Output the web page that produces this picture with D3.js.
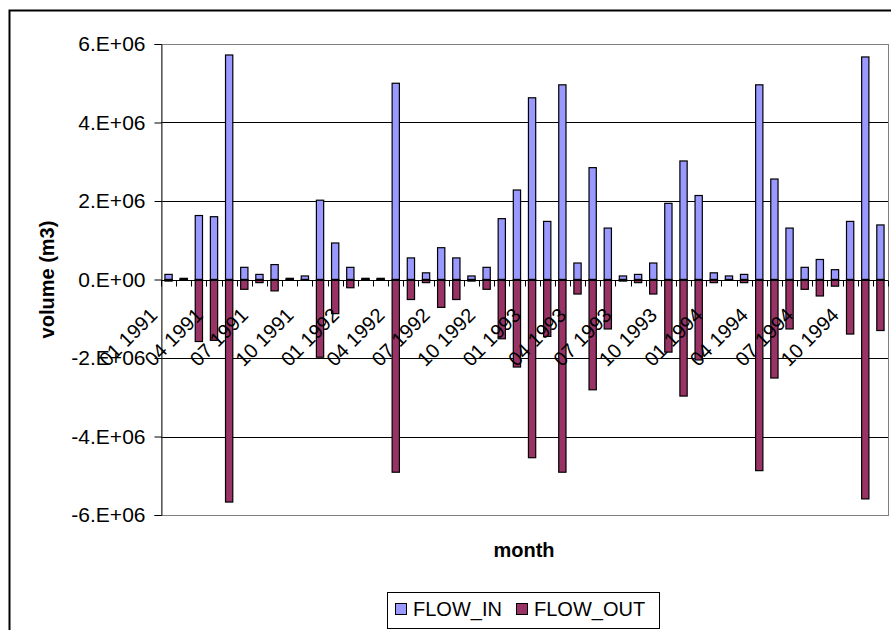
<!DOCTYPE html>
<html>
<head>
<meta charset="utf-8">
<script src="https://cdn.jsdelivr.net/npm/d3@7"></script>
<style>
  html, body { margin: 0; padding: 0; background: #fff; }
  svg { display: block; font-family: "Liberation Sans", Arial, sans-serif; }
</style>
</head>
<body>
<svg id="chart" width="891" height="630"></svg>
<script>
// Monthly categories, January 1991 to December 1994
const years = [1991, 1992, 1993, 1994];
const monthNums = ["01","02","03","04","05","06","07","08","09","10","11","12"];
const months = years.flatMap(y => monthNums.map(m => `${m} ${y}`));

// Every third month carries a label on the axis
const tickLabels = months.filter((_, i) => i % 3 === 0);

// Inflow volume per month (m3)
const flowIn = [
  0.13e6, 0.03e6, 1.63e6, 1.60e6, 5.72e6, 0.31e6, 0.13e6, 0.38e6, 0.03e6, 0.09e6, 2.02e6, 0.93e6,
  0.31e6, 0.03e6, 0.03e6, 5.00e6, 0.55e6, 0.17e6, 0.81e6, 0.55e6, 0.09e6, 0.31e6, 1.55e6, 2.28e6,
  4.63e6, 1.48e6, 4.96e6, 0.42e6, 2.85e6, 1.31e6, 0.09e6, 0.13e6, 0.42e6, 1.94e6, 3.02e6, 2.14e6,
  0.17e6, 0.09e6, 0.13e6, 4.96e6, 2.56e6, 1.31e6, 0.31e6, 0.51e6, 0.25e6, 1.48e6, 5.67e6, 1.39e6
];

// Outflow volume per month (m3), negative
const flowOut = [
  -0.04e6, -0.02e6, -1.58e6, -1.55e6, -5.67e6, -0.25e6, -0.08e6, -0.29e6, -0.02e6, -0.01e6, -1.98e6, -0.87e6,
  -0.21e6, -0.02e6, -0.02e6, -4.91e6, -0.51e6, -0.08e6, -0.71e6, -0.51e6, -0.04e6, -0.25e6, -1.51e6, -2.23e6,
  -4.54e6, -1.45e6, -4.91e6, -0.37e6, -2.81e6, -1.26e6, -0.04e6, -0.08e6, -0.37e6, -1.85e6, -2.97e6, -2.05e6,
  -0.08e6, -0.01e6, -0.08e6, -4.87e6, -2.51e6, -1.26e6, -0.25e6, -0.42e6, -0.17e6, -1.39e6, -5.59e6, -1.30e6
];

const yTicks = [-6e6, -4e6, -2e6, 0, 2e6, 4e6, 6e6];
const seriesNames = ["FLOW_IN", "FLOW_OUT"];
const seriesColors = ["#9999FF", "#993366"];

const svg = d3.select("#chart");

const plot = { left: 161, right: 888, top: 44, bottom: 515 };

const x = d3.scaleBand().domain(months).range([plot.left, plot.right]).padding(0);
const y = d3.scaleLinear().domain([-6e6, 6e6]).range([plot.bottom, plot.top]);

const barFrac = 0.48;
const barW = x.bandwidth() * barFrac;
const barOff = x.bandwidth() * (1 - barFrac) / 2;

// Excel-style scientific label, e.g. 6.E+06
function sci(d) {
  if (d === 0) return "0.E+00";
  const e = Math.floor(Math.log10(Math.abs(d)));
  const m = Math.round(d / Math.pow(10, e));
  return `${m}.E+${String(e).padStart(2, "0")}`;
}

// Outer chart frame
svg.append("rect")
  .attr("x", 9.5).attr("y", 10.5)
  .attr("width", 920).attr("height", 660)
  .attr("fill", "none").attr("stroke", "#000").attr("stroke-width", 2);

// Plot area frame
svg.append("rect")
  .attr("x", plot.left + 0.5).attr("y", plot.top + 0.5)
  .attr("width", plot.right - plot.left).attr("height", plot.bottom - plot.top)
  .attr("fill", "none").attr("stroke", "#808080").attr("stroke-width", 1);

// Horizontal gridlines
svg.append("g")
  .selectAll("line")
  .data(yTicks.filter(d => d !== 0 && Math.abs(d) < 6e6))
  .join("line")
  .attr("x1", plot.left).attr("x2", plot.right)
  .attr("y1", d => Math.round(y(d)) + 0.5).attr("y2", d => Math.round(y(d)) + 0.5)
  .attr("stroke", "#000").attr("stroke-width", 1);

// Bars: inflow above zero, outflow below
const bars = svg.append("g");
bars.selectAll("rect.in")
  .data(flowIn)
  .join("rect")
  .attr("class", "in")
  .attr("x", (d, i) => x(months[i]) + barOff)
  .attr("width", barW)
  .attr("y", d => y(d))
  .attr("height", d => y(0) - y(d))
  .attr("fill", seriesColors[0])
  .attr("stroke", "#000").attr("stroke-width", 1.2);

bars.selectAll("rect.out")
  .data(flowOut)
  .join("rect")
  .attr("class", "out")
  .attr("x", (d, i) => x(months[i]) + barOff)
  .attr("width", barW)
  .attr("y", y(0))
  .attr("height", d => y(d) - y(0))
  .attr("fill", seriesColors[1])
  .attr("stroke", "#000").attr("stroke-width", 1.2);

// Y axis
const yAxis = svg.append("g")
  .attr("transform", `translate(${plot.left + 0.5},0)`)
  .call(d3.axisLeft(y).tickValues(yTicks).tickFormat(sci).tickSize(7).tickPadding(9));
yAxis.select(".domain").attr("stroke", "#333");
yAxis.selectAll(".tick line").attr("stroke", "#000");
yAxis.selectAll(".tick text")
  .attr("font-size", 21).attr("fill", "#000")
  .style("font-family", "'Liberation Sans', Arial, sans-serif");

// X axis along zero, with ticks at category boundaries
const zeroY = Math.round(y(0)) + 0.5;
svg.append("line")
  .attr("x1", plot.left).attr("x2", plot.right)
  .attr("y1", zeroY).attr("y2", zeroY)
  .attr("stroke", "#000").attr("stroke-width", 1);

const boundaries = months.map(m => x(m)).concat([x(months[months.length - 1]) + x.bandwidth()]);
svg.append("g")
  .selectAll("line")
  .data(boundaries)
  .join("line")
  .attr("x1", d => Math.round(d) + 0.5)
  .attr("x2", d => Math.round(d) + 0.5)
  .attr("y1", zeroY).attr("y2", zeroY + 6)
  .attr("stroke", "#000").attr("stroke-width", 1);

// Rotated month labels
svg.append("g")
  .selectAll("text")
  .data(tickLabels)
  .join("text")
  .attr("transform", d => `translate(${x(d) + x.bandwidth() / 2 - 10},${y(0) + 37}) rotate(-45)`)
  .attr("text-anchor", "end")
  .attr("font-size", 20)
  .attr("fill", "#000")
  .text(d => d);

// Axis titles
svg.append("text")
  .attr("transform", `translate(54,${(plot.top + plot.bottom) / 2}) rotate(-90)`)
  .attr("text-anchor", "middle")
  .attr("font-size", 20).attr("font-weight", "bold")
  .text("volume (m3)");

svg.append("text")
  .attr("x", 524).attr("y", 557)
  .attr("text-anchor", "middle")
  .attr("font-size", 20).attr("font-weight", "bold")
  .text("month");

// Legend
const legend = svg.append("g");
legend.append("rect")
  .attr("x", 387.5).attr("y", 592.5).attr("width", 272).attr("height", 36)
  .attr("fill", "#fff").attr("stroke", "#000").attr("stroke-width", 1);

const legendX = [395, 516];
const items = legend.selectAll("g.item")
  .data(seriesNames)
  .join("g")
  .attr("class", "item")
  .attr("transform", (d, i) => `translate(${legendX[i]},0)`);
items.append("rect")
  .attr("x", 0.5).attr("y", 603.5).attr("width", 11).attr("height", 11)
  .attr("fill", (d, i) => seriesColors[i])
  .attr("stroke", "#000").attr("stroke-width", 1);
items.append("text")
  .attr("x", 18).attr("y", 616)
  .attr("font-size", 20)
  .text(d => d);
</script>
</body>
</html>
